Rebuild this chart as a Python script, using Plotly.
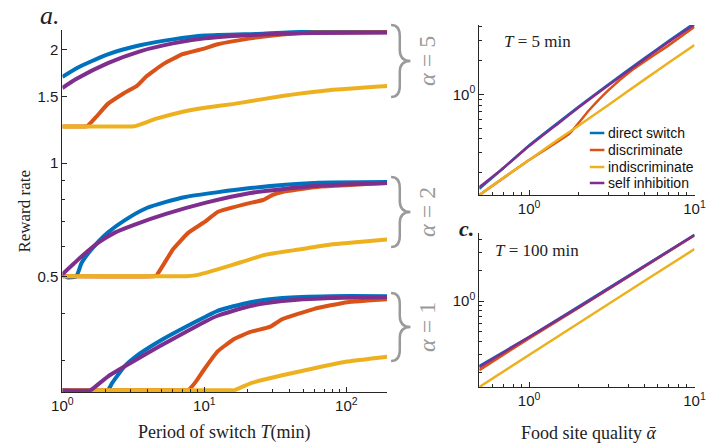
import plotly.graph_objects as go
import numpy as np

W, H = 722, 447


def px(x):
    return x / W


def py(y):
    return 1 - y / H


SERIES = ["direct switch", "discriminate", "indiscriminate", "self inhibition"]
COLORS = ["#0072BD", "#D95319", "#EDB120", "#7E2F8E"]

# ---------------- panel a: reward rate vs switching period T (min) ----------
# alpha = 5
A5_DIRECT_T = [1, 1.25, 2.09, 3.52, 6.0, 10.1, 25.9, 59.5, 194]
A5_DIRECT_R = [1.69, 1.78, 1.94, 2.05, 2.125, 2.175, 2.20, 2.23, 2.244]
A5_DISCRIM_T = [1, 1.45, 1.5, 1.71, 2.09, 2.73, 3.35, 3.93, 5.13, 7.02, 10.1, 12.4, 21.1, 35.4, 59.5, 194]
A5_DISCRIM_R = [1.25, 1.25, 1.252, 1.318, 1.434, 1.533, 1.60, 1.699, 1.827, 1.941, 2.012, 2.062, 2.138, 2.19, 2.215, 2.22]
A5_INDISC_T = [1, 3.1, 3.25, 4.59, 6.59, 10.1, 16.2, 35.4, 77.8, 194]
A5_INDISC_R = [1.25, 1.25, 1.252, 1.31, 1.359, 1.40, 1.434, 1.505, 1.561, 1.60]
A5_SELF_T = [1, 1.25, 2.09, 3.52, 6.0, 10.1, 25.9, 59.5, 194]
A5_SELF_R = [1.58, 1.668, 1.838, 1.976, 2.074, 2.138, 2.19, 2.21, 2.217]

# alpha = 2
A2_DIRECT_T = [1, 1.08, 1.25, 1.37, 1.6, 2.09, 3.0, 3.93, 5.37, 7.36, 21.1, 59.5, 194]
A2_DIRECT_R = [0.507, 0.498, 0.501, 0.545, 0.59, 0.654, 0.72, 0.76, 0.789, 0.813, 0.858, 0.885, 0.89]
A2_DISCRIM_T = [1, 4.4, 4.59, 6.0, 7.72, 10.1, 12.4, 21.1, 25.9, 30.3, 35.4, 59.5, 194]
A2_DISCRIM_R = [0.501, 0.501, 0.503, 0.59, 0.654, 0.699, 0.742, 0.784, 0.798, 0.823, 0.838, 0.863, 0.885]
A2_INDISC_T = [1, 7.0, 7.36, 8.61, 12.4, 16.2, 27.1, 46.3, 77.8, 194]
A2_INDISC_R = [0.501, 0.501, 0.501, 0.504, 0.523, 0.539, 0.572, 0.59, 0.608, 0.627]
A2_SELF_T = [1, 1.37, 1.79, 2.34, 3.2, 5.37, 10.1, 21.1, 59.5, 194]
A2_SELF_R = [0.507, 0.566, 0.615, 0.654, 0.686, 0.733, 0.784, 0.833, 0.869, 0.885]

# alpha = 1
A1_DIRECT_T = [1, 2.05, 2.12, 2.25, 2.45, 2.73, 3.52, 5.13, 7.36, 10.1, 12.4, 21.1, 35.4, 77.8, 194]
A1_DIRECT_R = [0.25, 0.25, 0.252, 0.262, 0.274, 0.289, 0.313, 0.342, 0.368, 0.391, 0.406, 0.428, 0.439, 0.444, 0.444]
A1_DISCRIM_T = [1, 7.6, 7.72, 7.96, 8.61, 10.1, 12.4, 16.2, 21.1, 28.9, 35.4, 59.5, 101.6, 194]
A1_DISCRIM_R = [0.25, 0.25, 0.25, 0.253, 0.262, 0.286, 0.317, 0.342, 0.357, 0.368, 0.386, 0.411, 0.428, 0.436]
A1_INDISC_T = [1, 15.5, 16.2, 21.1, 35.4, 59.5, 101.6, 194]
A1_INDISC_R = [0.25, 0.25, 0.25, 0.261, 0.274, 0.286, 0.298, 0.307]
A1_SELF_T = [1, 1.55, 1.6, 2.09, 2.73, 3.93, 6.0, 10.1, 12.4, 21.1, 35.4, 77.8, 194]
A1_SELF_R = [0.25, 0.25, 0.251, 0.272, 0.289, 0.313, 0.342, 0.38, 0.394, 0.418, 0.431, 0.439, 0.441]

# ---------------- panel b: T = 5 min, reward vs food quality ---------------
B_ALPHA = [0.5, 0.7, 1, 1.5, 2, 3, 5, 7, 10]
B_DIRECT = [0.143, 0.22, 0.35, 0.56, 0.78, 1.22, 2.11, 3.0, 4.33]
B_INDISC = [0.126, 0.18, 0.259, 0.395, 0.527, 0.80, 1.36, 1.92, 2.75]
B_SELF = [0.148, 0.22, 0.345, 0.55, 0.765, 1.2, 2.07, 2.95, 4.2]
B_DISCRIM_ALPHA = [0.5, 1, 1.76, 2.31, 3.02, 4.14, 7, 10]
B_DISCRIM = [0.126, 0.259, 0.449, 0.724, 1.09, 1.62, 2.75, 4.0]

# ---------------- panel c: T = 100 min -------------------------------------
C_ALPHA = [0.5, 1, 2, 5, 10]
C_DIRECT = [0.23, 0.444, 0.885, 2.22, 4.45]
C_DISCRIM = [0.21, 0.43, 0.86, 2.19, 4.4]
C_INDISC = [0.1435, 0.298, 0.608, 1.58, 3.23]
C_SELF = [0.225, 0.441, 0.87, 2.2, 4.43]

A_GROUPS = [
    [(A5_DIRECT_T, A5_DIRECT_R), (A5_DISCRIM_T, A5_DISCRIM_R), (A5_INDISC_T, A5_INDISC_R), (A5_SELF_T, A5_SELF_R)],
    [(A2_DIRECT_T, A2_DIRECT_R), (A2_DISCRIM_T, A2_DISCRIM_R), (A2_INDISC_T, A2_INDISC_R), (A2_SELF_T, A2_SELF_R)],
    [(A1_DIRECT_T, A1_DIRECT_R), (A1_DISCRIM_T, A1_DISCRIM_R), (A1_INDISC_T, A1_INDISC_R), (A1_SELF_T, A1_SELF_R)],
]
ALPHA_LABELS = ["<i>α</i> = 5", "<i>α</i> = 2", "<i>α</i> = 1"]

fig = go.Figure()

for group in A_GROUPS:
    for i, (t, r) in enumerate(group):
        sm = 0.6 if i in (0, 3) else 0.35
        fig.add_trace(go.Scatter(
            x=t, y=r, mode="lines", xaxis="x", yaxis="y",
            line=dict(color=COLORS[i], width=4, shape="spline", smoothing=sm),
            showlegend=False, hoverinfo="skip"))

b_data = [(B_ALPHA, B_DIRECT), (B_DISCRIM_ALPHA, B_DISCRIM), (B_ALPHA, B_INDISC), (B_ALPHA, B_SELF)]
for i, (a, r) in enumerate(b_data):
    fig.add_trace(go.Scatter(
        x=a, y=r, mode="lines", xaxis="x2", yaxis="y2",
        line=dict(color=COLORS[i], width=2.5, shape="spline", smoothing=0.4),
        showlegend=False, hoverinfo="skip"))

c_data = [(C_ALPHA, C_DIRECT), (C_ALPHA, C_DISCRIM), (C_ALPHA, C_INDISC), (C_ALPHA, C_SELF)]
for i, (a, r) in enumerate(c_data):
    fig.add_trace(go.Scatter(
        x=a, y=r, mode="lines", xaxis="x3", yaxis="y3",
        line=dict(color=COLORS[i], width=2.5),
        showlegend=False, hoverinfo="skip"))

AX = "#262626"
SANS = "Liberation Sans, Arial, sans-serif"
TICKFONT = dict(family=SANS, size=15, color="#1a1a1a")
SERIF = "Liberation Serif, Times New Roman, serif"


def SUP(e):
    return "10<sup>%d</sup>" % e


def axis_common():
    return dict(showline=True, linecolor=AX, linewidth=1, ticks="inside", ticklen=5,
                tickcolor=AX, tickwidth=1, showgrid=False, zeroline=False,
                tickfont=TICKFONT, tickmode="array")


minor_T = [k * 10 ** e for e in (0, 1) for k in range(2, 10)]
minor_alpha = [0.6, 0.7, 0.8, 0.9] + list(range(2, 10))
minor_r = [0.2, 0.3, 0.4, 0.5, 0.6, 0.7, 0.8, 0.9, 2, 3, 4]

layout = dict(
    width=W, height=H, margin=dict(l=0, r=0, t=0, b=0),
    paper_bgcolor="white", plot_bgcolor="rgba(0,0,0,0)",
    xaxis=dict(axis_common(), type="log", domain=[px(53), px(388)], anchor="y",
               range=[0, np.log10(194)], tickvals=[1, 10, 100], ticktext=[SUP(0), SUP(1), SUP(2)],
               minor=dict(tickmode="array", tickvals=minor_T, ticks="inside", ticklen=3, tickcolor=AX)),
    yaxis=dict(axis_common(), type="log", domain=[py(392), py(30)], anchor="x",
               range=[np.log10(0.2475), np.log10(2.25)], tickvals=[0.5, 1, 1.5, 2],
               ticktext=["0.5", "1", "1.5", "2"],
               minor=dict(tickmode="array", tickvals=[0.3, 0.4, 0.6, 0.7, 0.8, 0.9], ticks="inside",
                          ticklen=3, tickcolor=AX)),
    xaxis2=dict(axis_common(), type="log", domain=[px(483), px(705)], anchor="y2",
                range=[np.log10(0.5), 1], tickvals=[1, 10], ticktext=[SUP(0), SUP(1)],
                minor=dict(tickmode="array", tickvals=minor_alpha, ticks="inside", ticklen=3, tickcolor=AX)),
    yaxis2=dict(axis_common(), type="log", domain=[py(195), py(25)], anchor="x2",
                range=[-0.899, 0.619], tickvals=[1], ticktext=[SUP(0)],
                minor=dict(tickmode="array", tickvals=minor_r, ticks="inside", ticklen=3, tickcolor=AX)),
    xaxis3=dict(axis_common(), type="log", domain=[px(483), px(705)], anchor="y3",
                range=[np.log10(0.5), 1], tickvals=[1, 10], ticktext=[SUP(0), SUP(1)],
                minor=dict(tickmode="array", tickvals=minor_alpha, ticks="inside", ticklen=3, tickcolor=AX)),
    yaxis3=dict(axis_common(), type="log", domain=[py(387), py(233)], anchor="x3",
                range=[-0.843, 0.667], tickvals=[1], ticktext=[SUP(0)],
                minor=dict(tickmode="array", tickvals=minor_r, ticks="inside", ticklen=3, tickcolor=AX)),
)
fig.update_layout(**layout)

ann = []


def text(x, y, s, size, family=SERIF, color="#222", angle=0, xanchor="center"):
    ann.append(dict(x=px(x), y=py(y), xref="paper", yref="paper", text=s, showarrow=False,
                    font=dict(family=family, size=size, color=color), textangle=angle,
                    xanchor=xanchor, yanchor="middle"))


text(40, 16, "<i>a.</i>", 26)
text(470, 228, "<i><b>c.</b></i>", 22)
text(220, 432, "Period of switch <i>T</i>(min)", 18)
text(596, 433, "Food site quality <i>ᾱ</i>", 18)
text(13, 211, "Reward rate", 17, angle=-90)
text(543, 41, "<i>T</i> = 5 min", 17)
text(543, 250, "<i>T</i> = 100 min", 17)

# alpha labels and braces
GRAY = "#9a9a9a"
BRACES = [(25, 97, 61), (177, 247, 212), (293, 361, 327)]
shapes = []
for (yt, yb, ym), lab in zip(BRACES, ALPHA_LABELS):
    text(429, (yt + yb) / 2, lab, 24, color=GRAY, angle=-90)
    x0, x1 = 392, 412
    xc = x0 + 9
    r = 11

    def P(x, y):
        return "%.5f,%.5f" % (px(x), py(y))

    path = ("M " + P(x0, yt) + " Q " + P(xc, yt) + " " + P(xc, yt + r) +
            " L " + P(xc, ym - r) + " Q " + P(xc, ym) + " " + P(x1, ym) +
            " Q " + P(xc, ym) + " " + P(xc, ym + r) +
            " L " + P(xc, yb - r) + " Q " + P(xc, yb) + " " + P(x0, yb))
    shapes.append(dict(type="path", xref="paper", yref="paper", path=path,
                       line=dict(color=GRAY, width=2.5)))

# legend (panel b)
LEG_Y = [133, 150, 167, 183]
for name, col, yy in zip(SERIES, COLORS, LEG_Y):
    shapes.append(dict(type="line", xref="paper", yref="paper", x0=px(597), x1=px(612),
                       y0=py(yy), y1=py(yy), line=dict(color=col, width=2.5)))
    text(614, yy, name, 14, family=SANS, color="#111", xanchor="left")

fig.update_layout(annotations=ann, shapes=shapes)
fig.write_html("out.html")
